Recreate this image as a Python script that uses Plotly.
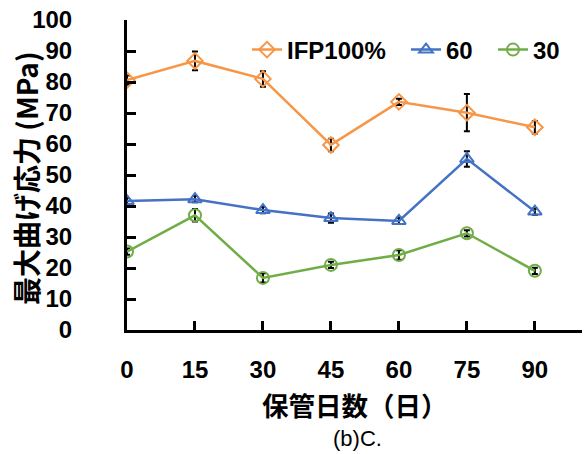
import plotly.graph_objects as go

days = [0, 15, 30, 45, 60, 75, 90]
ifp100 = [80.6, 86.8, 81.0, 59.7, 73.6, 70.1, 65.4]
ifp100_err = [1.5, 3.0, 2.5, 2.0, 1.0, 6.0, 2.0]
s60 = [41.6, 42.2, 38.7, 36.1, 35.2, 55.2, 38.2]
s60_err = [1.0, 1.0, 1.0, 1.5, 1.0, 2.5, 1.0]
s30 = [25.3, 37.0, 16.8, 21.0, 24.2, 31.2, 19.1]
s30_err = [1.0, 2.0, 1.5, 1.0, 1.5, 1.0, 1.0]
names = ["IFP100%", "60", "30"]
x_ticks = [0, 15, 30, 45, 60, 75, 90]
y_ticks = [0, 10, 20, 30, 40, 50, 60, 70, 80, 90, 100]

FONT = "Liberation Sans, Noto Sans CJK JP, sans-serif"
CJK = "Noto Sans CJK JP, Liberation Sans, sans-serif"

series = [
    (ifp100, ifp100_err, "#F79646", "diamond-open", "legend"),
    (s60, s60_err, "#4472C4", "triangle-up-open", "legend2"),
    (s30, s30_err, "#70AD47", "circle-open", "legend3"),
]

fig = go.Figure()
for (vals, errs, col, sym, lg), nm in zip(series, names):
    fig.add_trace(go.Scatter(
        x=days, y=vals, name=nm, mode="lines+markers",
        line=dict(color=col, width=2.5),
        marker=dict(symbol=sym, size=12, color=col, line=dict(width=2, color=col)),
        error_y=dict(type="data", array=errs, visible=True, color="black", thickness=2, width=3),
        legend=lg,
    ))

W, H = 585, 454
# plot area in screen pixels: x 127..582, y 20..330
ml, mr, mt, mb = 127, 3, 20, 124
pw = W - ml - mr
ph = H - mt - mb

def px_x(s):
    return (s - ml) / pw

def px_y(s):
    return (H - mb - s) / ph

leg_common = dict(orientation="h", yanchor="middle", xanchor="left",
                  bgcolor="rgba(0,0,0,0)", borderwidth=0,
                  font=dict(family=FONT, size=24, color="black", weight="bold"),
                  itemwidth=30)

fig.update_layout(
    width=W, height=H,
    margin=dict(l=ml, r=mr, t=mt, b=mb, autoexpand=False),
    paper_bgcolor="white", plot_bgcolor="white",
    showlegend=True,
    legend=dict(x=px_x(247), y=px_y(50), **leg_common),
    legend2=dict(x=px_x(406), y=px_y(50), **leg_common),
    legend3=dict(x=px_x(493), y=px_y(50), **leg_common),
    xaxis=dict(range=[0, 100.4], tickvals=x_ticks, ticktext=[str(v) for v in x_ticks],
               showgrid=False, zeroline=False, showline=True, linecolor="black", linewidth=3,
               ticks="inside", ticklen=9, tickwidth=3, tickcolor="black",
               tickfont=dict(family=FONT, size=24, color="black", weight="bold"),
               ticklabelstandoff=16, ticklabeloverflow="allow"),
    yaxis=dict(range=[0, 100], tickvals=y_ticks, ticktext=[str(v) for v in y_ticks],
               showgrid=False, zeroline=False, showline=True, linecolor="black", linewidth=3,
               ticks="inside", ticklen=9, tickwidth=3, tickcolor="black",
               tickfont=dict(family=FONT, size=24, color="black", weight="bold"),
               ticklabelstandoff=47, ticklabeloverflow="allow"),
    annotations=[
        dict(text="最大曲げ応力 (MPa)", textangle=-90, xref="paper", yref="paper",
             x=px_x(26), y=px_y(178), xanchor="center", yanchor="middle", showarrow=False,
             font=dict(family=CJK, size=28, color="black", weight="bold")),
        dict(text="保管日数（日）", xref="paper", yref="paper",
             x=px_x(355), y=px_y(404), xanchor="center", yanchor="middle", showarrow=False,
             font=dict(family=CJK, size=26.5, color="black", weight="bold")),
        dict(text="(b)C.", xref="paper", yref="paper",
             x=px_x(357), y=px_y(438), xanchor="center", yanchor="middle", showarrow=False,
             font=dict(family=FONT, size=22, color="black")),
    ],
)

fig.write_html("out.html", config={"displayModeBar": False},
               post_script="document.body.style.margin='0';document.body.style.padding='0';")
